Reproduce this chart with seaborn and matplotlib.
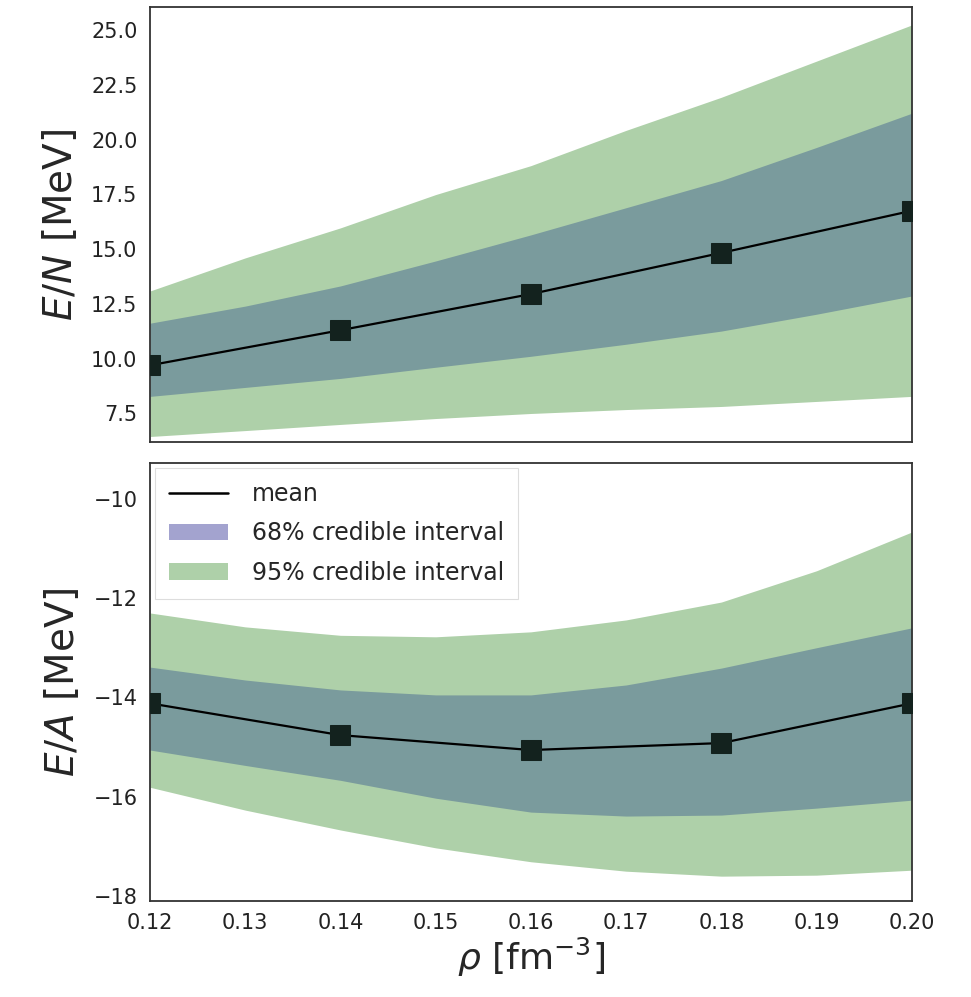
import matplotlib
matplotlib.use("Agg")
import matplotlib.pyplot as plt
from matplotlib.patches import Patch
from matplotlib.lines import Line2D
import pandas as pd
import seaborn as sns

# Densities at which the mean energies were computed
rho_pts = [0.12, 0.14, 0.16, 0.18, 0.20]
# Densities at which the credible bands are tabulated
rho_band = [0.12, 0.13, 0.14, 0.15, 0.16, 0.17, 0.18, 0.19, 0.20]

# Pure neutron matter, E/N [MeV]
en_mean = [9.70, 11.30, 12.95, 14.83, 16.75]
en_68_lo = [8.28, 8.69, 9.10, 9.61, 10.11, 10.66, 11.26, 12.03, 12.86]
en_68_hi = [11.62, 12.40, 13.32, 14.46, 15.65, 16.89, 18.13, 19.64, 21.20]
en_95_lo = [6.45, 6.72, 7.00, 7.27, 7.50, 7.68, 7.82, 8.05, 8.28]
en_95_hi = [13.09, 14.60, 15.97, 17.49, 18.81, 20.42, 21.93, 23.58, 25.23]

# Symmetric nuclear matter, E/A [MeV]
ea_mean = [-14.12, -14.76, -15.06, -14.92, -14.12]
ea_68_lo = [-15.06, -15.37, -15.67, -16.03, -16.31, -16.39, -16.37, -16.23, -16.07]
ea_68_hi = [-13.39, -13.65, -13.85, -13.95, -13.95, -13.75, -13.41, -13.00, -12.60]
ea_95_lo = [-15.81, -16.27, -16.67, -17.03, -17.31, -17.50, -17.60, -17.58, -17.48]
ea_95_hi = [-12.30, -12.58, -12.75, -12.78, -12.68, -12.44, -12.08, -11.45, -10.67]

xticks = [0.12, 0.13, 0.14, 0.15, 0.16, 0.17, 0.18, 0.19, 0.20]
en_ticks = [7.5, 10.0, 12.5, 15.0, 17.5, 20.0, 22.5, 25.0]
ea_ticks = [-18, -16, -14, -12, -10]

labels = ["mean", "68% credible interval", "95% credible interval"]

C95 = "#aed0a9"
C68 = "#7a9b9d"
C68_KEY = "#a3a3cf"
MARK = "#13221e"

sns.set_style("white")
plt.rcParams["font.family"] = ["DejaVu Sans"]

fig = plt.figure(figsize=(9.71, 9.97), dpi=100)
ax1 = fig.add_axes([0.1545, 0.5567, 0.7845, 0.4363])
ax2 = fig.add_axes([0.1545, 0.0963, 0.7845, 0.4393])

band = pd.DataFrame({
    "rho": rho_band,
    "en_68_lo": en_68_lo, "en_68_hi": en_68_hi,
    "en_95_lo": en_95_lo, "en_95_hi": en_95_hi,
    "ea_68_lo": ea_68_lo, "ea_68_hi": ea_68_hi,
    "ea_95_lo": ea_95_lo, "ea_95_hi": ea_95_hi,
})
pts = pd.DataFrame({"rho": rho_pts, "en": en_mean, "ea": ea_mean})

for ax, key in [(ax1, "en"), (ax2, "ea")]:
    ax.fill_between(band["rho"], band[f"{key}_95_lo"], band[f"{key}_95_hi"],
                    color=C95, lw=0, zorder=1)
    ax.fill_between(band["rho"], band[f"{key}_68_lo"], band[f"{key}_68_hi"],
                    color=C68, lw=0, zorder=2)
    sns.lineplot(data=pts, x="rho", y=key, ax=ax, color="black", lw=1.6,
                 marker="s", markersize=15, markerfacecolor=MARK,
                 markeredgecolor=MARK, zorder=3)
    ax.set_xlim(0.12, 0.20)
    ax.set_xticks(xticks)
    for s in ax.spines.values():
        s.set_color("#333333")
        s.set_linewidth(1.3)
    ax.tick_params(labelsize=15, length=0, pad=9, colors="#222222")

ax1.set_ylim(6.2, 26.05)
ax1.set_yticks(en_ticks)
ax1.set_yticklabels([f"{t:.1f}" for t in en_ticks])
ax1.set_xticklabels([])
ax1.set_xlabel("")
ax1.set_ylabel("$E/N$ [MeV]", fontsize=28, labelpad=8)

ax2.set_ylim(-18.1, -9.28)
ax2.set_yticks(ea_ticks)
ax2.set_yticklabels([f"\u2212{abs(t)}" for t in ea_ticks])
ax2.set_xticklabels([f"{t:.2f}" for t in xticks])
ax2.set_ylabel("$E/A$ [MeV]", fontsize=28, labelpad=8)
ax2.set_xlabel(r"$\rho$ [fm$^{-3}$]", fontsize=26, labelpad=2)

handles = [Line2D([0], [0], color="black", lw=1.8),
           Patch(facecolor=C68_KEY, edgecolor="none"),
           Patch(facecolor=C95, edgecolor="none")]
leg = ax2.legend(handles, labels, loc="upper left", fontsize=17,
                 frameon=True, framealpha=1.0, edgecolor="#dddddd",
                 fancybox=False, handlelength=2.5, handletextpad=1.0,
                 borderpad=0.6, labelspacing=0.65, borderaxespad=0.2)
leg.get_frame().set_linewidth(0.8)

fig.savefig("out.png", dpi=100)
